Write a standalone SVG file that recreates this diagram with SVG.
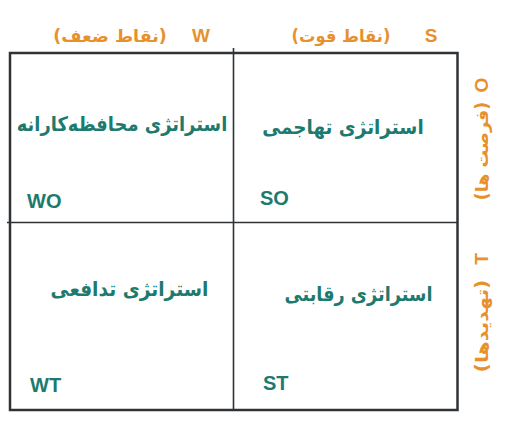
<svg xmlns="http://www.w3.org/2000/svg" width="516" height="425" viewBox="0 0 516 425">
<style>
.frame{fill:none;stroke:#2f3336;stroke-width:2.5}
.div{stroke:#2f3336;stroke-width:1.6}
.ar{font-family:"DejaVu Sans",sans-serif;font-weight:bold;fill:#1d7a6e;font-size:20px}
.code{font-family:"Liberation Sans",Arial,sans-serif;font-weight:bold;fill:#1d7a6e;font-size:20px}
.ol{font-family:"Liberation Sans",Arial,sans-serif;font-weight:bold;fill:#e8912c;font-size:19px}
.oa{font-family:"DejaVu Sans",sans-serif;font-weight:bold;fill:#e8912c;font-size:17px}
</style>
<rect width="516" height="425" fill="#ffffff"/>
<g id="connectors">
<rect class="frame" x="10" y="53" width="447.5" height="357"/>
<line class="div" x1="233.5" y1="48" x2="233.5" y2="410"/>
<line class="div" x1="7" y1="222.5" x2="457.5" y2="222.5"/>
</g>
<g id="label-S">
<text class="ol" x="431" y="42" text-anchor="middle">S</text>
<text class="oa" transform="translate(341,42) scale(0.96,1)" text-anchor="middle" direction="rtl">(نقاط قوت)</text>
</g>
<g id="label-W">
<text class="ol" x="201" y="42" text-anchor="middle">W</text>
<text class="oa" transform="translate(110,42) scale(1.03,1)" text-anchor="middle" direction="rtl">(نقاط ضعف)</text>
</g>
<g id="label-O">
<text class="ol" transform="translate(488,85) rotate(-90)" text-anchor="middle">O</text>
<text class="oa" transform="translate(488,151) rotate(-90) scale(1.03,1)" text-anchor="middle" direction="rtl">(فرصت ها)</text>
</g>
<g id="label-T">
<text class="ol" transform="translate(488,259) rotate(-90)" text-anchor="middle">T</text>
<text class="oa" transform="translate(488,326) rotate(-90) scale(1.2,1)" text-anchor="middle" direction="rtl" font-size="18">(تهدیدها)</text>
</g>
<g id="node-WO">
<text class="ar" transform="translate(122,131) scale(0.895,1)" text-anchor="middle" direction="rtl">استراتژی محافظه‌کارانه</text>
<text class="code" x="27" y="208">WO</text>
</g>
<g id="node-SO">
<text class="ar" transform="translate(343,134) scale(0.92,1)" text-anchor="middle" direction="rtl">استراتژی تهاجمی</text>
<text class="code" x="260" y="205">SO</text>
</g>
<g id="node-WT">
<text class="ar" transform="translate(129.5,296) scale(0.93,1)" text-anchor="middle" direction="rtl">استراتژی تدافعی</text>
<text class="code" x="30" y="392">WT</text>
</g>
<g id="node-ST">
<text class="ar" transform="translate(358.5,301) scale(0.885,1)" text-anchor="middle" direction="rtl">استراتژی رقابتی</text>
<text class="code" x="263" y="390">ST</text>
</g>
</svg>
